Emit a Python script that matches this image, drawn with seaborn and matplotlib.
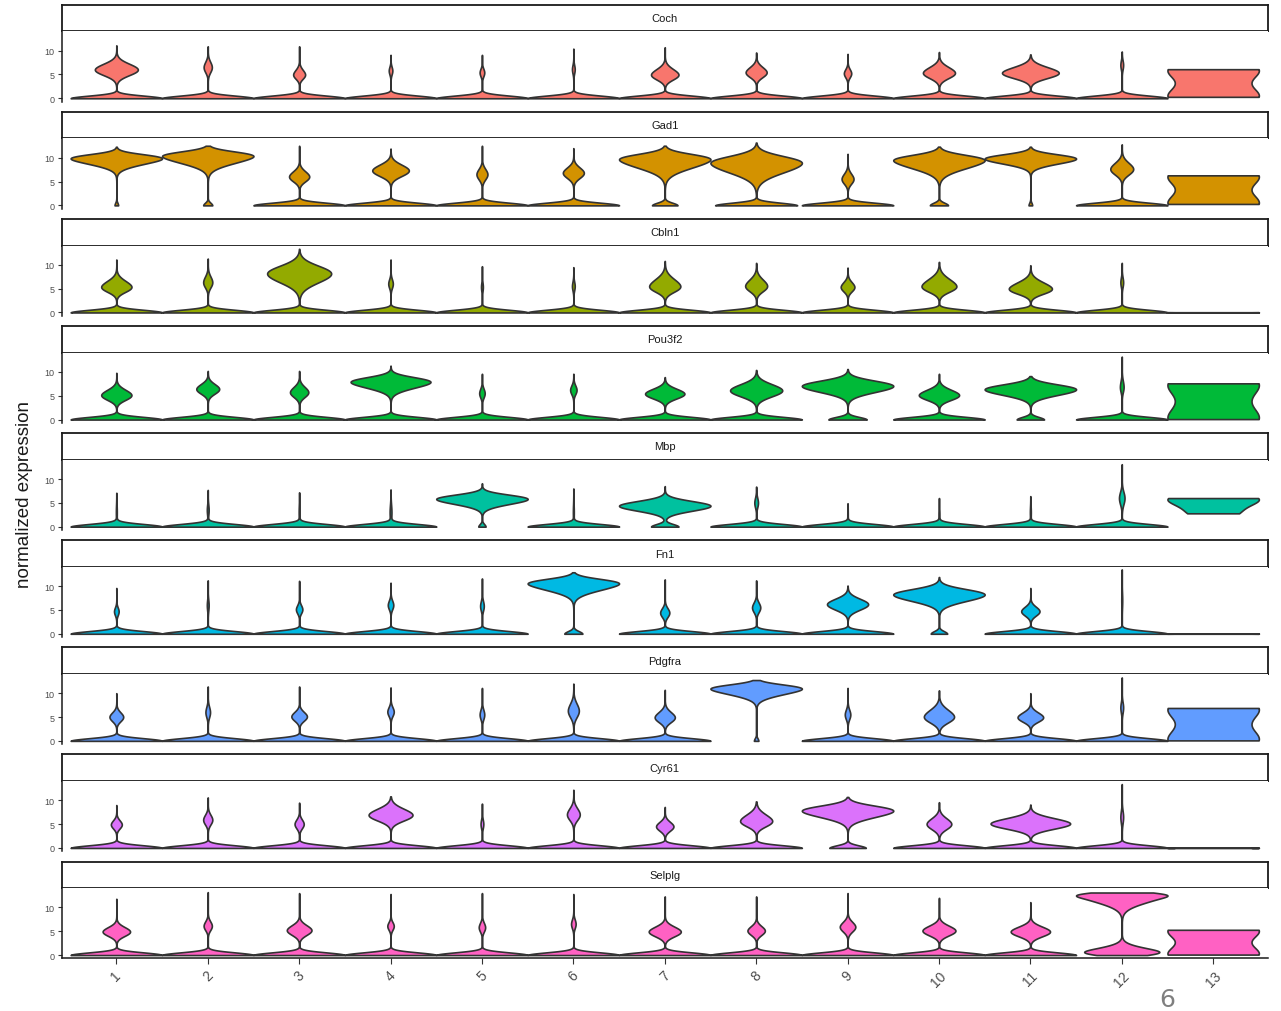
from statistics import NormalDist

import matplotlib
matplotlib.use('Agg')
import matplotlib.pyplot as plt
import numpy as np
import pandas as pd
import seaborn as sns


GENES = ['Coch', 'Gad1', 'Cbln1', 'Pou3f2', 'Mbp', 'Fn1', 'Pdgfra', 'Cyr61', 'Selplg']
CLUSTERS = [str(i) for i in range(1, 14)]
COLORS = ['#F8766D', '#D39200', '#93AA00', '#00BA38', '#00C19F',
          '#00B9E3', '#619CFF', '#DB72FB', '#FF61C3']

# clusters 1-12
# centre of the upper (expressing) lobe
PEAK = {
    'Coch':   [6.0, 6.5, 4.9, 5.8, 5.4, 6.1, 4.9, 5.4, 5.2, 5.3, 5.3, 7.0],
    'Gad1':   [10.0, 10.5, 6.0, 7.3, 6.5, 6.8, 9.8, 9.0, 5.5, 9.6, 9.9, 7.6],
    'Cbln1':  [5.3, 6.3, 8.2, 6.0, 5.3, 5.5, 5.4, 5.5, 5.3, 5.4, 4.9, 6.3],
    'Pou3f2': [5.1, 6.4, 5.7, 8.0, 5.5, 6.2, 5.4, 6.1, 7.1, 5.1, 6.4, 6.8],
    'Mbp':    [3.0, 3.5, 3.0, 3.0, 5.9, 3.0, 4.4, 5.0, 2.5, 2.5, 3.0, 6.0],
    'Fn1':    [4.7, 6.0, 5.1, 6.0, 5.8, 10.7, 4.4, 5.5, 6.2, 8.3, 4.7, 7.0],
    'Pdgfra': [5.0, 6.0, 5.1, 6.1, 5.5, 6.3, 4.9, 11.1, 5.5, 5.0, 4.9, 7.0],
    'Cyr61':  [4.9, 5.9, 5.0, 6.9, 5.0, 7.0, 4.5, 5.6, 7.9, 5.0, 5.1, 6.5],
    'Selplg': [4.9, 6.1, 5.2, 6.1, 5.8, 6.5, 4.9, 5.1, 5.9, 5.1, 4.9, 12.8],
}
# spread of the lobe below / above its centre
SD_LO = {
    'Coch':   [1.0, 0.9, 0.6, 0.6, 0.6, 0.7, 0.8, 0.8, 0.6, 0.9, 0.9, 0.8],
    'Gad1':   [1.2, 1.5, 0.8, 1.0, 0.9, 0.9, 1.8, 2.0, 0.8, 1.7, 1.0, 1.0],
    'Cbln1':  [0.8, 0.9, 1.8, 0.7, 0.7, 0.7, 0.9, 0.9, 0.7, 0.9, 0.8, 0.8],
    'Pou3f2': [0.8, 0.8, 0.8, 1.2, 0.7, 0.7, 0.8, 1.1, 1.2, 0.8, 1.1, 0.9],
    'Mbp':    [1.5, 1.0, 1.5, 1.5, 1.0, 1.5, 0.9, 0.8, 1.2, 1.2, 1.2, 1.2],
    'Fn1':    [0.6, 1.0, 0.6, 0.7, 0.8, 1.4, 0.7, 0.8, 1.0, 1.3, 0.7, 1.5],
    'Pdgfra': [0.7, 0.9, 0.7, 0.7, 0.8, 1.2, 0.8, 1.2, 0.8, 1.0, 0.7, 1.0],
    'Cyr61':  [0.6, 0.8, 0.7, 1.0, 0.7, 1.0, 0.7, 0.9, 1.3, 0.9, 0.9, 1.2],
    'Selplg': [0.7, 0.7, 0.8, 0.6, 0.7, 0.7, 0.8, 0.7, 0.8, 0.8, 0.8, 1.6],
}
SD_HI = {
    'Coch':   [1.1, 1.0, 0.9, 0.6, 0.6, 0.7, 1.1, 1.0, 0.7, 1.1, 1.1, 0.8],
    'Gad1':   [0.5, 0.6, 1.0, 1.1, 1.0, 1.0, 0.8, 1.2, 1.0, 0.8, 0.6, 1.2],
    'Cbln1':  [1.2, 1.1, 1.5, 0.8, 0.8, 0.8, 1.5, 1.3, 0.9, 1.5, 1.3, 0.9],
    'Pou3f2': [1.0, 0.9, 1.0, 0.7, 0.8, 0.8, 0.9, 1.2, 0.9, 1.0, 0.8, 1.2],
    'Mbp':    [1.5, 1.0, 1.5, 1.5, 0.6, 1.5, 0.8, 0.9, 1.2, 1.2, 1.2, 1.2],
    'Fn1':    [0.6, 1.0, 0.7, 0.8, 0.9, 0.6, 0.8, 0.9, 1.0, 0.9, 0.8, 1.5],
    'Pdgfra': [0.8, 1.0, 0.8, 0.8, 0.9, 1.4, 1.0, 0.5, 0.9, 1.4, 0.9, 1.0],
    'Cyr61':  [0.7, 0.9, 0.8, 1.2, 0.8, 1.2, 0.8, 1.3, 0.8, 1.1, 1.0, 1.2],
    'Selplg': [0.8, 0.8, 0.9, 0.6, 0.8, 0.8, 0.9, 0.8, 0.9, 0.9, 0.9, 0.1],
}
# highest value in the cluster (tip of the needle)
TOP = {
    'Coch':   [11.1, 10.9, 10.9, 9.1, 9.1, 10.4, 10.7, 9.6, 9.3, 9.7, 9.2, 9.8],
    'Gad1':   [12.3, 12.5, 12.5, 11.9, 12.5, 12.0, 12.3, 12.0, 10.8, 12.2, 12.3, 12.8],
    'Cbln1':  [11.1, 11.3, 11.6, 11.1, 9.7, 9.5, 10.8, 10.4, 9.4, 10.6, 9.9, 10.4],
    'Pou3f2': [9.8, 10.2, 10.2, 11.3, 9.6, 9.6, 8.9, 10.4, 10.6, 9.6, 9.1, 13.2],
    'Mbp':    [7.1, 7.7, 7.2, 7.8, 9.1, 8.0, 8.5, 8.4, 4.9, 6.0, 6.4, 13.1],
    'Fn1':    [9.6, 11.2, 11.1, 10.7, 11.6, 12.9, 11.4, 11.2, 10.1, 11.9, 9.6, 13.5],
    'Pdgfra': [10.0, 11.4, 11.4, 11.2, 11.1, 12.0, 10.7, 12.5, 11.1, 10.6, 10.0, 13.3],
    'Cyr61':  [9.0, 10.6, 9.5, 10.8, 9.3, 12.2, 8.6, 9.5, 10.7, 9.6, 9.1, 13.4],
    'Selplg': [11.8, 13.2, 13.0, 12.8, 13.0, 12.8, 12.3, 12.3, 13.0, 12.0, 11.1, 12.9],
}
# width of the upper lobe and of the zero spike, as share of the slot
LOBE_W = {
    'Coch':   [0.47, 0.09, 0.13, 0.04, 0.05, 0.03, 0.30, 0.23, 0.08, 0.35, 0.62, 0.03],
    'Gad1':   [1, 1, 0.22, 0.40, 0.12, 0.23, 1, 1, 0.13, 1, 1, 0.25],
    'Cbln1':  [0.33, 0.10, 0.70, 0.05, 0.02, 0.03, 0.34, 0.24, 0.15, 0.38, 0.47, 0.03],
    'Pou3f2': [0.33, 0.25, 0.20, 0.87, 0.06, 0.07, 0.43, 0.57, 1, 0.44, 1, 0.04],
    'Mbp':    [0.01, 0.02, 0.01, 0.02, 1, 0.01, 1, 0.04, 0.005, 0.01, 0.01, 0.06],
    'Fn1':    [0.05, 0.02, 0.07, 0.06, 0.04, 1, 0.10, 0.09, 0.45, 1, 0.20, 0.01],
    'Pdgfra': [0.15, 0.05, 0.17, 0.07, 0.05, 0.12, 0.22, 1, 0.06, 0.33, 0.28, 0.03],
    'Cyr61':  [0.12, 0.10, 0.10, 0.48, 0.03, 0.14, 0.19, 0.35, 1, 0.27, 0.87, 0.03],
    'Selplg': [0.30, 0.09, 0.27, 0.07, 0.07, 0.05, 0.35, 0.19, 0.17, 0.36, 0.43, 1],
}
BASE_W = {
    'Coch':   [1] * 12,
    'Gad1':   [0.04, 0.10, 1, 1, 1, 1, 0.28, 0.9, 1, 0.2, 0.04, 1],
    'Cbln1':  [1] * 12,
    'Pou3f2': [1, 1, 1, 1, 1, 1, 1, 1, 0.42, 1, 0.30, 1],
    'Mbp':    [1, 1, 1, 1, 0.08, 1, 0.3, 1, 1, 1, 1, 1],
    'Fn1':    [1, 1, 1, 1, 1, 0.2, 1, 1, 1, 0.18, 1, 1],
    'Pdgfra': [1, 1, 1, 1, 1, 1, 1, 0.05, 1, 1, 1, 1],
    'Cyr61':  [1, 1, 1, 1, 1, 1, 1, 1, 0.4, 1, 1, 1],
    'Selplg': [1] * 11 + [0.5],
}
# low values that are not exactly zero (only Selplg cluster 12)
BASE_SPREAD = {'Selplg': [0] * 11 + [1.1]}
# cluster 13 holds only a few cells
CLUSTER13 = {
    'Coch': [0.3, 6.1], 'Gad1': [0.3, 6.3], 'Cbln1': [0.0, 0.05],
    'Pou3f2': [0.1, 7.6], 'Mbp': [2.8, 5.8, 6.0], 'Fn1': [0.0, 0.05],
    'Pdgfra': [0.1, 6.9], 'Cyr61': [0.0, 0.05], 'Selplg': [0.1, 5.3],
}

BW = 0.55
SCALE = 600


def half_quantiles(m):
    nd = NormalDist()
    return [nd.inv_cdf(0.5 + 0.5 * (j + 0.5) / m) for j in range(m)]


def cell_values(gene, k):
    if k == 12:
        return list(CLUSTER13[gene])
    peak, lo, hi = PEAK[gene][k], SD_LO[gene][k], SD_HI[gene][k]
    spread = BASE_SPREAD.get(gene, [0] * 12)[k]
    base_scale = BW if spread == 0 else np.hypot(spread, BW) * 1.2
    n0 = int(round(BASE_W[gene][k] * base_scale * np.sqrt(2 * np.pi) * SCALE))
    n_lo = max(2, int(round(LOBE_W[gene][k] * np.hypot(lo, BW) * np.sqrt(np.pi / 2) * SCALE)))
    n_hi = max(2, int(round(LOBE_W[gene][k] * np.hypot(hi, BW) * np.sqrt(np.pi / 2) * SCALE)))
    vals = [spread * q for q in half_quantiles(n0)] if spread else [0.0] * n0
    vals += [max(0.0, peak - lo * q) for q in half_quantiles(n_lo)]
    vals += [peak + hi * q for q in half_quantiles(n_hi)]
    vals.append(TOP[gene][k])
    return vals


def build_frame(gene):
    rows = []
    for k, cl in enumerate(CLUSTERS):
        for v in cell_values(gene, k):
            rows.append((cl, v))
    return pd.DataFrame(rows, columns=['cluster', 'value'])


def bandwidth(kde):
    data = kde.dataset[0]
    if data.size <= 2:
        return 0.55
    if data.size < 10:
        return 0.8
    return BW / data.std(ddof=1)


sns.set_style('white')
plt.rcParams['font.family'] = ['Liberation Sans', 'DejaVu Sans']

W, H = 1281, 1012
fig = plt.figure(figsize=(W / 100, H / 100), dpi=100)

left, right = 61.5, 1268.0
pitch, strip_h, panel_h = 107.1, 26.6, 70.3

for i, gene in enumerate(GENES):
    strip_top = 5.7 + pitch * i
    panel_top = strip_top + strip_h
    panel_bot = panel_top + panel_h

    sax = fig.add_axes([left / W, 1 - panel_top / H, (right - left) / W, strip_h / H])
    sax.set_xticks([])
    sax.set_yticks([])
    for sp in sax.spines.values():
        sp.set_visible(True)
        sp.set_color('#1a1a1a')
        sp.set_linewidth(1.3)
    sax.text(0.5, 0.5, gene, ha='center', va='center', fontsize=8,
             color='#1a1a1a', transform=sax.transAxes)

    ax = fig.add_axes([left / W, 1 - panel_bot / H, (right - left) / W, panel_h / H])
    df = build_frame(gene)
    sns.violinplot(data=df, x='cluster', y='value', order=CLUSTERS,
                   color=COLORS[i], saturation=1, inner=None, cut=0,
                   density_norm='width', width=1.0, bw_method=bandwidth,
                   gridsize=400, linewidth=1.2, linecolor='#333333', ax=ax)
    ax.set_xlim(-0.6, 12.6)
    ax.set_ylim(-0.7, 14.05)
    ax.set_yticks([0, 5, 10])
    ax.set_xlabel('')
    ax.set_ylabel('')
    for side in ['top', 'right']:
        ax.spines[side].set_visible(False)
    ax.spines['left'].set_color('#1a1a1a')
    ax.spines['left'].set_linewidth(1.1)
    ax.tick_params(axis='y', length=3, width=0.8, color='#333333',
                   labelsize=6.5, labelcolor='#4d4d4d', pad=2, left=True)
    if i == len(GENES) - 1:
        ax.spines['bottom'].set_color('#1a1a1a')
        ax.spines['bottom'].set_linewidth(1.1)
        ax.tick_params(axis='x', length=4, width=0.8, color='#333333',
                       labelsize=10, labelcolor='#4d4d4d', pad=3, bottom=True)
        plt.setp(ax.get_xticklabels(), rotation=45, ha='center', va='top')
    else:
        ax.spines['bottom'].set_visible(False)
        ax.set_xticks([])

fig.text(25 / W, 1 - 495 / H, 'normalized expression', rotation=90,
         ha='center', va='center', fontsize=13.5, color='#1a1a1a')
fig.text(1167 / W, 1 - 1000 / H, '6', ha='center', va='center',
         fontsize=18, color='#7f7f7f', family=['DejaVu Sans'])

fig.savefig('out.png', dpi=100)
